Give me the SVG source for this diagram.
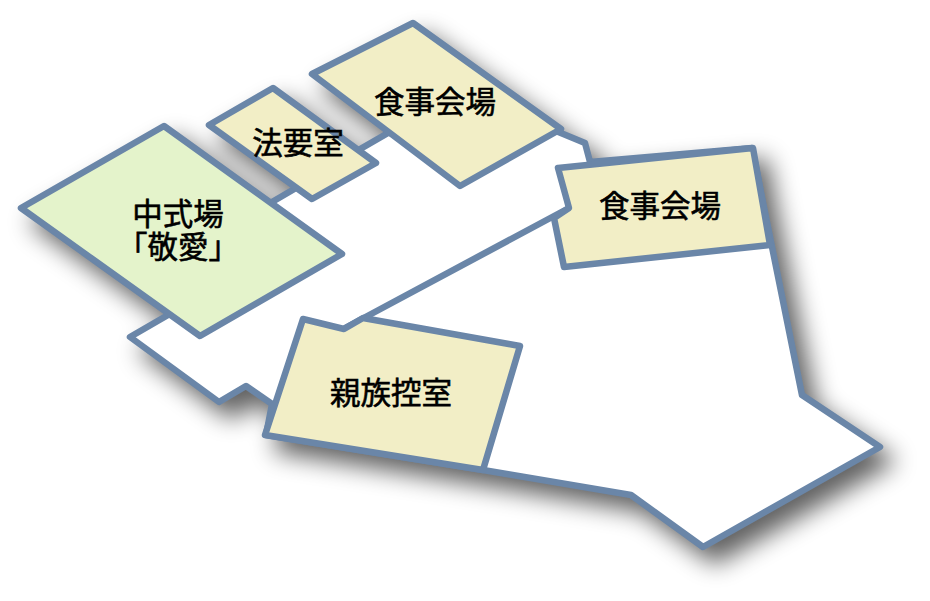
<svg xmlns="http://www.w3.org/2000/svg" width="930" height="601" viewBox="0 0 930 601">
<style>
.s{stroke:#6a86a8;stroke-width:6.5;stroke-linejoin:round;stroke-linecap:round}
.r{fill:#f2eec6}
.g{fill:#e4f3cb}
.f{fill:#fff}
text{font-family:"Noto Sans CJK JP","Noto Sans CJK SC",sans-serif;font-size:30.5px;fill:#000;text-anchor:middle;stroke:#000;stroke-width:.6}
</style>
<defs>
<filter id="sh" filterUnits="userSpaceOnUse" x="-60" y="-60" width="1050" height="720" color-interpolation-filters="sRGB">
<feGaussianBlur in="SourceAlpha" stdDeviation="12"/>
<feOffset dx="12" dy="14"/>
<feComponentTransfer><feFuncA type="linear" slope=".62"/></feComponentTransfer>
<feMerge><feMergeNode/><feMergeNode in="SourceGraphic"/></feMerge>
</filter>
</defs>
<rect width="930" height="601" fill="#fff"/>
<g filter="url(#sh)">
<g id="connectors">
<polygon class="s f" points="130,337 168,315 272,202 296,188 362,148 388,133 556,131 585,143 590,162 752,148 802,395 880,447 703,547 631,495 483,470 266,435 272,404 246,386 219,402"/>
<polyline class="s" fill="none" points="345,328 569,208"/>
</g>
<g id="hall"><polygon class="s g" points="21,208 164,126 342,254 200,336"/></g>
<g id="houyou"><polygon class="s r" points="209,125 273,88 376,163 312,199"/></g>
<g id="dining1"><polygon class="s r" points="312,74 413,23 561,129 460,186"/></g>
<g id="dining2"><polygon class="s r" points="558,168 753,148 770,245 564,267 554,218 569,208"/></g>
<g id="family"><polygon class="s r" points="303,319 344,329 363,318 520,346 483,470 265,435"/></g>
</g>
<g id="labels">
<text x="178" y="225">中式場<tspan x="178" y="258">「敬愛」</tspan></text>
<text x="298" y="154">法要室</text>
<text x="435" y="113">食事会場</text>
<text x="660" y="217">食事会場</text>
<text x="391" y="404">親族控室</text>
</g>
</svg>
